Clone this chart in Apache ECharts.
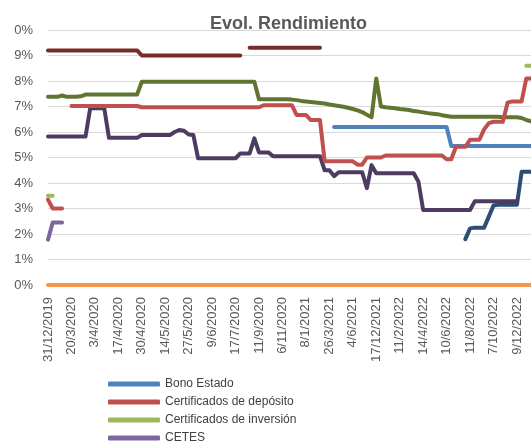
<!DOCTYPE html>
<html>
<head>
<meta charset="utf-8">
<script src="https://cdn.jsdelivr.net/npm/echarts@6/dist/echarts.min.js"></script>
<style>
html,body{margin:0;padding:0;background:#fff;overflow:hidden;}
#chart{width:531px;height:441px;}
</style>
</head>
<body>
<div id="chart"></div>
<script>
// x-axis tick labels (one every 5 categories)
const tickLabels = ['31/12/2019','20/3/2020','3/4/2020','17/4/2020','30/4/2020','14/5/2020','27/5/2020','9/6/2020','17/7/2020','11/9/2020','6/11/2020','8/1/2021','26/3/2021','4/6/2021','17/12/2021','11/2/2022','14/4/2022','10/6/2022','11/8/2022','7/10/2022','9/12/2022'];
// y-axis tick labels as shown (top label is cropped to "0%")
const yTickLabels = ['0%','1%','2%','3%','4%','5%','6%','7%','8%','9%','0%'];

const bonoEstado = [
 null,null,null,null,null,null,null,null,null,null,
 null,null,null,null,null,null,null,null,null,null,
 null,null,null,null,null,null,null,null,null,null,
 null,null,null,null,null,null,null,null,null,null,
 null,null,null,null,null,null,null,null,null,null,
 null,null,null,null,null,null,null,null,null,null,
 null,6.2,6.2,6.2,6.2,6.2,6.2,6.2,6.2,6.2,
 6.2,6.2,6.2,6.2,6.2,6.2,6.2,6.2,6.2,6.2,
 6.2,6.2,6.2,6.2,6.2,6.2,5.45,5.45,5.45,5.45,
 5.45,5.45,5.45,5.45,5.45,5.45,5.45,5.45,5.45,5.45,
 5.45,5.45,5.45,5.45
];
const certDeposito = [
 3.35,3.0,3.0,3.0,null,7.02,7.02,7.02,7.02,7.02,
 7.02,7.02,7.02,7.02,7.02,7.02,7.02,7.02,7.02,7.02,
 6.97,6.97,6.97,6.97,6.97,6.97,6.97,6.97,6.97,6.97,
 6.97,6.97,6.97,6.97,6.97,6.97,6.97,6.97,6.97,6.97,
 6.97,6.97,6.97,6.97,6.97,6.97,7.05,7.05,7.05,7.05,
 7.05,7.05,7.05,6.67,6.67,6.67,6.47,6.47,6.47,4.85,
 4.85,4.85,4.85,4.85,4.85,4.85,4.72,4.72,5.0,5.0,
 5.0,5.0,5.08,5.08,5.08,5.08,5.08,5.08,5.08,5.08,
 5.08,5.08,5.08,5.08,5.08,4.93,4.93,5.42,5.42,5.42,
 5.7,5.7,5.7,6.1,6.35,6.4,6.4,6.4,7.15,7.2,
 7.2,7.2,8.1,8.1
];
const certInversion = [
 3.5,3.5,null,null,null,null,null,null,null,null,
 null,null,null,null,null,null,null,null,null,null,
 null,null,null,null,null,null,null,null,null,null,
 null,null,null,null,null,null,null,null,null,null,
 null,null,null,null,null,null,null,null,null,null,
 null,null,null,null,null,null,null,null,null,null,
 null,null,null,null,null,null,null,null,null,null,
 null,null,null,null,null,null,null,null,null,null,
 null,null,null,null,null,null,null,null,null,null,
 null,null,null,null,null,null,null,null,null,null,
 null,null,8.6,8.6
];
const cetes = [
 1.78,2.45,2.45,2.45,null,null,null,null,null,null,
 null,null,null,null,null,null,null,null,null,null,
 null,null,null,null,null,null,null,null,null,null,
 null,null,null,null,null,null,null,null,null,null,
 null,null,null,null,null,null,null,null,null,null,
 null,null,null,null,null,null,null,null,null,null,
 null,null,null,null,null,null,null,null,null,null,
 null,null,null,null,null,null,null,null,null,null,
 null,null,null,null,null,null,null,null,null,null,
 null,null,null,null,null,null,null,null,null,null,
 null,null,null,null
];
const serieNaranja = [
 0,0,0,0,0,0,0,0,0,0, 0,0,0,0,0,0,0,0,0,0,
 0,0,0,0,0,0,0,0,0,0, 0,0,0,0,0,0,0,0,0,0,
 0,0,0,0,0,0,0,0,0,0, 0,0,0,0,0,0,0,0,0,0,
 0,0,0,0,0,0,0,0,0,0, 0,0,0,0,0,0,0,0,0,0,
 0,0,0,0,0,0,0,0,0,0, 0,0,0,0,0,0,0,0,0,0,
 0,0,0,0
];
const serieAzulOscuro = [
 null,null,null,null,null,null,null,null,null,null,
 null,null,null,null,null,null,null,null,null,null,
 null,null,null,null,null,null,null,null,null,null,
 null,null,null,null,null,null,null,null,null,null,
 null,null,null,null,null,null,null,null,null,null,
 null,null,null,null,null,null,null,null,null,null,
 null,null,null,null,null,null,null,null,null,null,
 null,null,null,null,null,null,null,null,null,null,
 null,null,null,null,null,null,null,null,null,1.8,
 2.22,2.25,2.25,2.25,2.68,3.12,3.15,3.15,3.15,3.15,
 3.15,4.44,4.44,4.44
];
const serieRojoOscuro = [
 9.2,9.2,9.2,9.2,9.2,9.2,9.2,9.2,9.2,9.2,
 9.2,9.2,9.2,9.2,9.2,9.2,9.2,9.2,9.2,9.2,
 9.0,9.0,9.0,9.0,9.0,9.0,9.0,9.0,9.0,9.0,
 9.0,9.0,9.0,9.0,9.0,9.0,9.0,9.0,9.0,9.0,
 9.0,9.0,null,9.3,9.3,9.3,9.3,9.3,9.3,9.3,
 9.3,9.3,9.3,9.3,9.3,9.3,9.3,9.3,9.3,null,
 null,null,null,null,null,null,null,null,null,null,
 null,null,null,null,null,null,null,null,null,null,
 null,null,null,null,null,null,null,null,null,null,
 null,null,null,null,null,null,null,null,null,null,
 null,null,null,null
];
const serieVerdeOscuro = [
 7.38,7.38,7.38,7.43,7.38,7.38,7.38,7.4,7.47,7.47,
 7.47,7.47,7.47,7.47,7.47,7.47,7.47,7.47,7.47,7.47,
 7.97,7.97,7.97,7.97,7.97,7.97,7.97,7.97,7.97,7.97,
 7.97,7.97,7.97,7.97,7.97,7.97,7.97,7.97,7.97,7.97,
 7.97,7.97,7.97,7.97,7.97,7.28,7.28,7.28,7.28,7.28,
 7.28,7.28,7.27,7.25,7.22,7.2,7.18,7.16,7.14,7.12,
 7.08,7.05,7.02,6.99,6.95,6.9,6.85,6.78,6.68,6.58,
 8.1,7.0,6.97,6.95,6.93,6.9,6.88,6.86,6.82,6.8,
 6.77,6.74,6.72,6.7,6.66,6.63,6.6,6.6,6.6,6.6,
 6.6,6.6,6.6,6.6,6.6,6.6,6.6,6.58,6.58,6.58,
 6.58,6.55,6.47,6.42
];
const serieMoradoOscuro = [
 5.82,5.82,5.82,5.82,5.82,5.82,5.82,5.82,5.82,6.93,
 6.93,6.93,6.93,5.77,5.77,5.77,5.77,5.77,5.77,5.77,
 5.88,5.88,5.88,5.88,5.88,5.88,5.88,6.0,6.08,6.05,
 5.9,5.88,4.97,4.97,4.97,4.97,4.97,4.97,4.97,4.97,
 4.97,5.16,5.16,5.16,5.75,5.2,5.2,5.2,5.05,5.05,
 5.05,5.05,5.05,5.05,5.05,5.05,5.05,5.05,5.05,4.5,
 4.5,4.27,4.42,4.42,4.42,4.42,4.42,4.42,3.8,4.7,
 4.38,4.38,4.38,4.38,4.38,4.38,4.38,4.38,4.38,4.05,
 2.94,2.94,2.94,2.94,2.94,2.94,2.94,2.94,2.94,2.94,
 2.94,3.28,3.28,3.28,3.28,3.28,3.28,3.28,3.28,3.28,
 3.28,null,null,null
];

const categories = [];
for (let i = 0; i < bonoEstado.length; i++) {
  categories.push(i % 5 === 0 && tickLabels[i / 5] ? tickLabels[i / 5] : ' ' + i);
}

const chart = echarts.init(document.getElementById('chart'), null, {renderer: 'canvas'});

function mk(name, data, color, z) {
  return {
    name: name, type: 'line', data: data, showSymbol: false, symbol: 'none',
    connectNulls: false, z: z || 2, animation: false,
    lineStyle: {color: color, width: 4, cap: 'round', join: 'round'},
    itemStyle: {color: color},
    emphasis: {disabled: true}
  };
}

const option = {
  animation: false,
  backgroundColor: '#ffffff',
  title: {
    text: 'Evol. Rendimiento',
    left: 205, top: 10,
    textStyle: {fontSize: 18, fontWeight: 'bold', color: '#595959', fontFamily: "'Liberation Sans', Arial, sans-serif"}
  },
  grid: {left: 48, top: 30, width: 485, height: 255, containLabel: false},
  legend: {
    orient: 'vertical', left: 108, top: 378,
    padding: [0, 0, -200, 0],
    itemGap: 6, itemWidth: 52, itemHeight: 5,
    icon: 'roundRect',
    data: ['Bono Estado', 'Certificados de depósito', 'Certificados de inversión', 'CETES'],
    textStyle: {fontSize: 12, color: '#404040', fontFamily: "'Liberation Sans', Arial, sans-serif"}
  },
  xAxis: {
    type: 'category', data: categories, boundaryGap: false,
    axisLine: {show: false}, axisTick: {show: false}, splitLine: {show: false},
    axisLabel: {interval: 4, rotate: 90, margin: 12, fontSize: 13, color: '#595959', fontFamily: "'Liberation Sans', Arial, sans-serif"}
  },
  yAxis: {
    type: 'value', min: 0, max: 10, interval: 1,
    axisLine: {show: false}, axisTick: {show: false},
    splitLine: {lineStyle: {color: '#d9d9d9', width: 1}},
    axisLabel: {margin: 15, fontSize: 13, color: '#595959', fontFamily: "'Liberation Sans', Arial, sans-serif",
      formatter: function (v) { return yTickLabels[Math.round(v)]; }}
  },
  series: [
    mk('Serie naranja', serieNaranja, '#f79646'),
    mk('Serie azul oscuro', serieAzulOscuro, '#2c4d75'),
    mk('Serie rojo oscuro', serieRojoOscuro, '#772c2a'),
    mk('Serie verde oscuro', serieVerdeOscuro, '#5f7530'),
    mk('Serie morado oscuro', serieMoradoOscuro, '#4d3b62'),
    mk('Bono Estado', bonoEstado, '#4f81bd'),
    mk('Certificados de depósito', certDeposito, '#c0504d'),
    mk('Certificados de inversión', certInversion, '#9bbb59'),
    mk('CETES', cetes, '#8064a2')
  ]
};
chart.setOption(option);
</script>
</body>
</html>
